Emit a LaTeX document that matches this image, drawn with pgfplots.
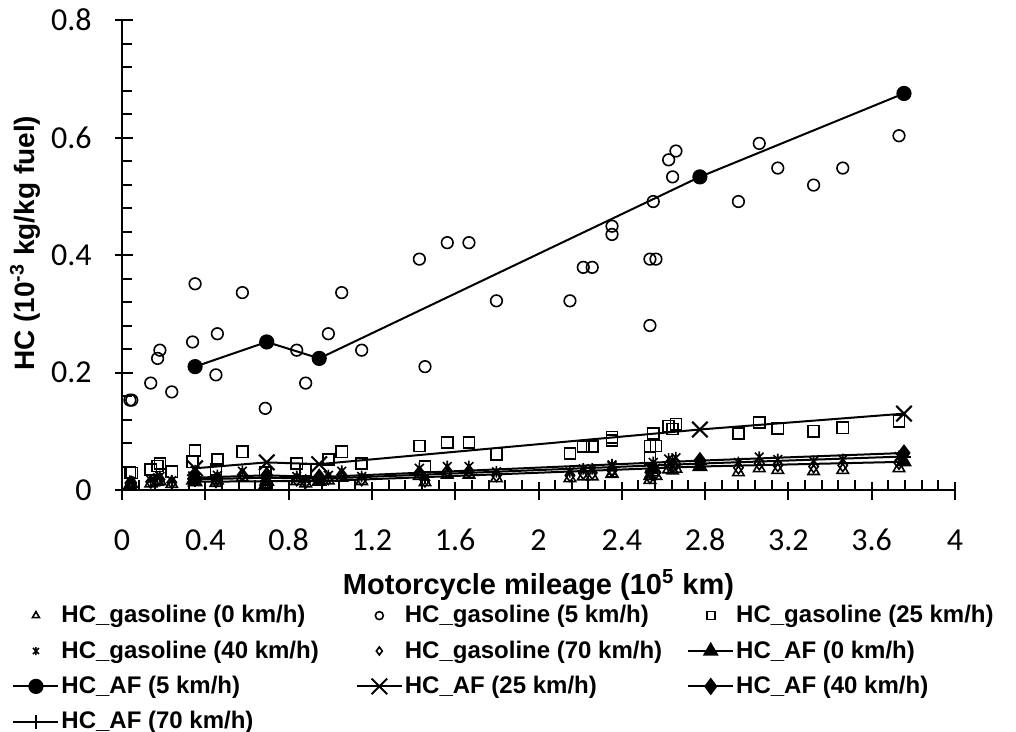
\documentclass[border=0pt]{standalone}
\usepackage{fontspec}
\setmainfont{Carlito}
\newfontfamily\lsans{Liberation Sans}
\usepackage{pgfplots}
\pgfplotsset{compat=1.18}
\pgfdeclareplotmark{xstar}{%
  \pgfpathmoveto{\pgfqpoint{0pt}{\pgfplotmarksize}}%
  \pgfpathlineto{\pgfqpoint{0pt}{-\pgfplotmarksize}}%
  \pgfpathmoveto{\pgfqpoint{-0.75\pgfplotmarksize}{0.75\pgfplotmarksize}}%
  \pgfpathlineto{\pgfqpoint{0.75\pgfplotmarksize}{-0.75\pgfplotmarksize}}%
  \pgfpathmoveto{\pgfqpoint{-0.75\pgfplotmarksize}{-0.75\pgfplotmarksize}}%
  \pgfpathlineto{\pgfqpoint{0.75\pgfplotmarksize}{0.75\pgfplotmarksize}}%
  \pgfusepathqstroke}
\pgfplotsset{
  legend image code/.code={\draw[mark repeat=2,mark phase=2,#1] plot coordinates {(0pt,0pt) (11.25pt,0pt) (22.5pt,0pt)};},
  gleg/.style={legend image code/.code={\draw[##1, mark size=2pt] plot coordinates {(11.25pt,0pt)};}},
}
\begin{document}
\begin{tikzpicture}
\begin{axis}[
  at={(0,0)}, anchor=south west,
  scale only axis, width=416.5pt, height=235pt,
  xmin=0, xmax=4, ymin=0, ymax=0.8,
  axis lines*=left,
  axis line style={line width=1pt, black},
  xtick={0,0.4,0.8,1.2,1.6,2,2.4,2.8,3.2,3.6,4},
  xticklabels={0,0.4,0.8,1.2,1.6,2,2.4,2.8,3.2,3.6,4},
  ytick={0,0.2,0.4,0.6,0.8},
  yticklabels={0,0.2,0.4,0.6,0.8},
  minor x tick num=4, minor y tick num=4,
  tick align=inside,
  major tick length=9pt, minor tick length=5pt,
  every tick/.style={black, line width=1pt},
  every major x tick/.append style={yshift=-5pt},
  every major y tick/.append style={xshift=-3.5pt},
  xticklabel style={anchor=center, yshift=-25pt, inner sep=0pt, font=\fontsize{16}{19}\selectfont},
  yticklabel style={anchor=east, xshift=-15pt, inner sep=0pt, font=\fontsize{16}{19}\selectfont},
  xlabel={Motorcycle mileage (10\textsuperscript{5} km)},
  ylabel={HC (10\textsuperscript{-3} kg/kg fuel)},
  xlabel style={at={(axis description cs:0.5,-0.2021)}, anchor=center, font=\lsans\bfseries\fontsize{14.5}{17}\selectfont},
  ylabel style={at={(axis description cs:-0.1164,0.525)}, anchor=center, font=\lsans\bfseries\fontsize{14}{17}\selectfont},
  legend columns=3,
  legend style={draw=none, fill=none, at={(axis description cs:-0.132,-0.2447)}, anchor=north west,
    font=\lsans\bfseries\fontsize{12}{14}\selectfont, inner sep=0pt, row sep=7.5pt,
    nodes={inner xsep=1pt, inner ysep=0pt},
    /tikz/column 2/.style={column sep=17.5pt},
    /tikz/column 4/.style={column sep=11.5pt}},
  legend cell align=left,
  clip=false,
]
% HC_gasoline (0 km/h)
\addplot[black, only marks, mark=triangle, mark size=3.3pt, mark options={line width=0.8pt}, gleg] coordinates {
(0.038,0.009)(0.047,0.010)(0.138,0.011)(0.171,0.014)(0.182,0.015)(0.239,0.010)(0.339,0.016)(0.351,0.022)(0.451,0.012)(0.458,0.016)(0.578,0.021)(0.688,0.009)(0.839,0.015)(0.882,0.011)(0.991,0.016)(1.055,0.021)(1.151,0.015)(1.428,0.024)(1.455,0.013)(1.562,0.026)(1.666,0.026)(1.798,0.020)(2.151,0.020)(2.215,0.023)(2.258,0.023)(2.353,0.028)(2.353,0.027)(2.535,0.017)(2.535,0.024)(2.551,0.030)(2.564,0.024)(2.625,0.035)(2.644,0.033)(2.660,0.036)(2.960,0.030)(3.060,0.037)(3.149,0.034)(3.321,0.032)(3.461,0.034)(3.731,0.037)};
\addlegendentry{HC\_gasoline (0 km/h)}
% HC_gasoline (5 km/h)
\addplot[black, only marks, mark=o, mark size=2.9pt, mark options={line width=0.8pt}, gleg] coordinates {
(0.038,0.153)(0.047,0.153)(0.138,0.182)(0.171,0.224)(0.182,0.238)(0.239,0.167)(0.339,0.252)(0.351,0.351)(0.451,0.196)(0.458,0.266)(0.578,0.336)(0.688,0.139)(0.839,0.238)(0.882,0.182)(0.991,0.266)(1.055,0.336)(1.151,0.238)(1.428,0.393)(1.455,0.210)(1.562,0.421)(1.666,0.421)(1.798,0.322)(2.151,0.322)(2.215,0.379)(2.258,0.379)(2.353,0.449)(2.353,0.435)(2.535,0.280)(2.535,0.393)(2.551,0.491)(2.564,0.393)(2.625,0.562)(2.644,0.533)(2.660,0.577)(2.960,0.491)(3.060,0.590)(3.149,0.548)(3.321,0.519)(3.461,0.548)(3.731,0.603)};
\addlegendentry{HC\_gasoline (5 km/h)}
% HC_gasoline (25 km/h)
\addplot[black, only marks, mark=square, mark size=2.8pt, mark options={line width=0.8pt}, gleg] coordinates {
(0.038,0.030)(0.047,0.029)(0.138,0.035)(0.171,0.041)(0.182,0.045)(0.239,0.031)(0.339,0.048)(0.351,0.067)(0.451,0.035)(0.458,0.052)(0.578,0.065)(0.688,0.030)(0.839,0.045)(0.882,0.034)(0.991,0.052)(1.055,0.065)(1.151,0.045)(1.428,0.075)(1.455,0.040)(1.562,0.081)(1.666,0.081)(1.798,0.061)(2.151,0.062)(2.215,0.074)(2.258,0.074)(2.353,0.090)(2.353,0.084)(2.535,0.054)(2.535,0.075)(2.551,0.096)(2.564,0.075)(2.625,0.109)(2.644,0.104)(2.660,0.112)(2.960,0.096)(3.060,0.115)(3.149,0.105)(3.321,0.100)(3.461,0.106)(3.731,0.117)};
\addlegendentry{HC\_gasoline (25 km/h)}
% HC_gasoline (40 km/h)
\addplot[black, only marks, mark=xstar, mark size=2.9pt, mark options={line width=0.8pt}, gleg] coordinates {
(0.038,0.015)(0.047,0.014)(0.138,0.017)(0.171,0.021)(0.182,0.023)(0.239,0.016)(0.339,0.024)(0.351,0.033)(0.451,0.019)(0.458,0.025)(0.578,0.032)(0.688,0.013)(0.839,0.023)(0.882,0.017)(0.991,0.025)(1.055,0.032)(1.151,0.023)(1.428,0.037)(1.455,0.020)(1.562,0.040)(1.666,0.040)(1.798,0.031)(2.151,0.031)(2.215,0.036)(2.258,0.036)(2.353,0.043)(2.353,0.041)(2.535,0.027)(2.535,0.037)(2.551,0.047)(2.564,0.037)(2.625,0.053)(2.644,0.051)(2.660,0.055)(2.960,0.047)(3.060,0.056)(3.149,0.052)(3.321,0.049)(3.461,0.052)(3.731,0.057)};
\addlegendentry{HC\_gasoline (40 km/h)}
% HC_gasoline (70 km/h)
\addplot[black, only marks, mark=diamond, mark size=3.1pt, mark options={line width=0.8pt}, gleg] coordinates {
(0.038,0.012)(0.047,0.012)(0.138,0.014)(0.171,0.017)(0.182,0.018)(0.239,0.013)(0.339,0.019)(0.351,0.027)(0.451,0.015)(0.458,0.020)(0.578,0.026)(0.688,0.011)(0.839,0.018)(0.882,0.014)(0.991,0.020)(1.055,0.026)(1.151,0.018)(1.428,0.030)(1.455,0.016)(1.562,0.032)(1.666,0.032)(1.798,0.025)(2.151,0.025)(2.215,0.029)(2.258,0.029)(2.353,0.035)(2.353,0.033)(2.535,0.022)(2.535,0.030)(2.551,0.038)(2.564,0.030)(2.625,0.043)(2.644,0.041)(2.660,0.044)(2.960,0.038)(3.060,0.045)(3.149,0.042)(3.321,0.040)(3.461,0.042)(3.731,0.046)};
\addlegendentry{HC\_gasoline (70 km/h)}
% HC_AF (0 km/h)
\addplot[black, line width=1pt, mark=triangle*, mark size=3.6pt] coordinates {
(0.351,0.014)(0.695,0.015)(0.947,0.015)(2.775,0.040)(3.755,0.048)};
\addlegendentry{HC\_AF (0 km/h)}
% HC_AF (5 km/h)
\addplot[black, line width=1pt, mark=*, mark size=3.3pt] coordinates {
(0.351,0.210)(0.695,0.252)(0.947,0.224)(2.775,0.533)(3.755,0.675)};
\addlegendentry{HC\_AF (5 km/h)}
% HC_AF (25 km/h)
\addplot[black, line width=1pt, mark=x, mark size=5.5pt] coordinates {
(0.351,0.037)(0.695,0.047)(0.947,0.044)(2.775,0.103)(3.755,0.130)};
\addlegendentry{HC\_AF (25 km/h)}
% HC_AF (40 km/h)
\addplot[black, line width=1pt, mark=diamond*, mark size=3.6pt] coordinates {
(0.351,0.021)(0.695,0.025)(0.947,0.022)(2.775,0.050)(3.755,0.063)};
\addlegendentry{HC\_AF (40 km/h)}
% HC_AF (70 km/h)
\addplot[black, line width=1pt, mark=+, mark size=3.6pt] coordinates {
(0.351,0.018)(0.695,0.021)(0.947,0.019)(2.775,0.045)(3.755,0.057)};
\addlegendentry{HC\_AF (70 km/h)}
\end{axis}
\path (-61pt,-120pt) rectangle (447pt,245pt);
\end{tikzpicture}
\end{document}
